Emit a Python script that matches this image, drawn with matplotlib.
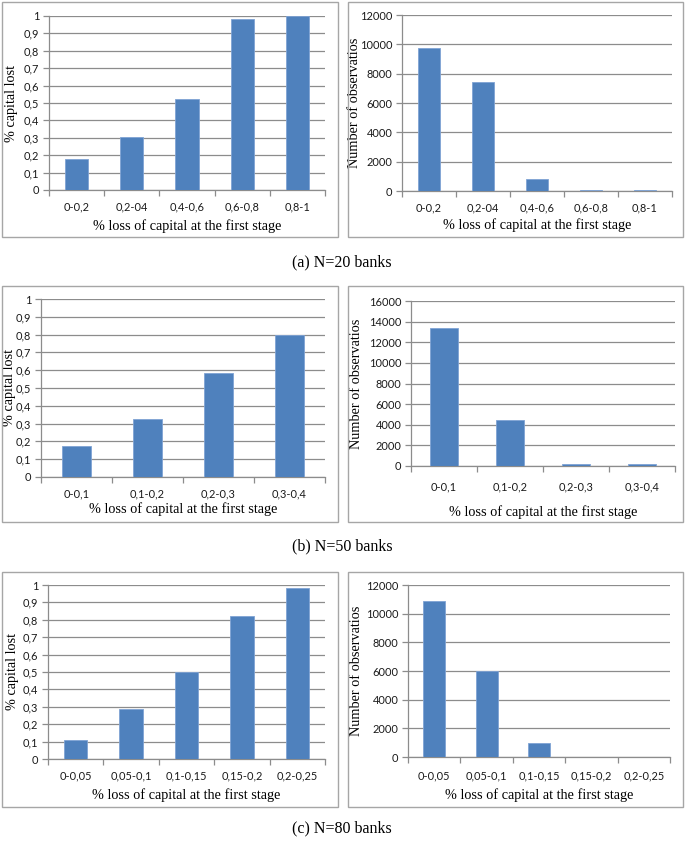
import matplotlib
matplotlib.use("Agg")
import matplotlib.pyplot as plt
from matplotlib.patches import Rectangle
from matplotlib.ticker import FuncFormatter, FixedLocator
import numpy as np

# ---------------- data ----------------
cats_a = ["0-0,2", "0,2-04", "0,4-0,6", "0,6-0,8", "0,8-1"]
lost_a = [0.18, 0.305, 0.525, 0.985, 1.0]
obs_a = [9720, 7420, 820, 80, 80]

cats_b = ["0-0,1", "0,1-0,2", "0,2-0,3", "0,3-0,4"]
lost_b = [0.175, 0.325, 0.586, 0.80]
obs_b = [13390, 4480, 150, 150]

cats_c = ["0-0,05", "0,05-0,1", "0,1-0,15", "0,15-0,2", "0,2-0,25"]
lost_c = [0.111, 0.29, 0.50, 0.822, 0.98]
obs_c = [10880, 6030, 960, 0, 0]

captions = ["(a) N=20 banks", "(b) N=50 banks", "(c) N=80 banks"]
xlabel_txt = "% loss of capital at the first stage"
ylabel_lost = "% capital lost"
ylabel_obs = "Number of observatios"

# ---------------- style ----------------
W, H = 685, 841
fig = plt.figure(figsize=(W / 100, H / 100), dpi=100)
BAR = "#4F81BD"
BAR_EDGE = "#7FA3D4"
GRID = "#8C8C8C"
BOX = "#A6A6A6"
TICKFONT = ["Lato", "DejaVu Sans"]
SERIF = ["Liberation Serif", "DejaVu Serif"]
TFS = 7.9
LFS = 10.3
PX2PT = 0.72


def box(l, t, r, b):
    fig.patches.append(Rectangle((l / W, 1 - b / H), (r - l) / W, (b - t) / H,
                                 transform=fig.transFigure, fill=False,
                                 edgecolor=BOX, linewidth=1.0, zorder=0))


def panel(l, t, r, b, cats, vals, ymax, ystep, ylabel, ylab_x, tick_y, xlab_y,
          comma=False):
    ax = fig.add_axes([l / W, 1 - b / H, (r - l) / W, (b - t) / H])
    n = len(cats)
    x = np.arange(n)
    ax.bar(x, vals, width=0.42, color=BAR, edgecolor=BAR_EDGE, linewidth=0.6,
           zorder=3)
    ax.set_xlim(-0.5, n - 0.5)
    ax.set_ylim(0, ymax)
    yt = np.arange(0, ymax + ystep / 2, ystep)
    ax.set_yticks(yt)
    if comma:
        ax.yaxis.set_major_formatter(FuncFormatter(
            lambda v, p: ("%g" % round(v, 2)).replace(".", ",")))
    else:
        ax.yaxis.set_major_formatter(FuncFormatter(lambda v, p: "%d" % v))
    ax.grid(axis="y", color=GRID, linewidth=0.9, zorder=0)
    ax.set_axisbelow(True)
    for s in ["top", "right"]:
        ax.spines[s].set_visible(False)
    for s in ["left", "bottom"]:
        ax.spines[s].set_color(GRID)
        ax.spines[s].set_linewidth(0.9)
    # category boundaries as major ticks, labels on minor ticks
    ax.xaxis.set_major_locator(FixedLocator(np.arange(n + 1) - 0.5))
    ax.xaxis.set_major_formatter(FuncFormatter(lambda v, p: ""))
    ax.set_xticks(x, minor=True)
    ax.set_xticklabels(cats, minor=True)
    ax.tick_params(axis="x", which="major", length=4.5, width=0.9, color=GRID,
                   direction="out")
    ax.tick_params(axis="x", which="minor", length=0,
                   pad=((tick_y - b) - 5.5) * PX2PT)
    ax.tick_params(axis="y", length=4, width=0.9, color=GRID, direction="out",
                   labelsize=TFS, labelcolor="#1a1a1a", pad=3)
    for lab in ax.get_xticklabels(minor=True) + ax.get_yticklabels():
        lab.set_family(TICKFONT)
        lab.set_fontsize(TFS)
        lab.set_color("#1a1a1a")
    ax.set_xlabel(xlabel_txt, family=SERIF, fontsize=LFS)
    ax.xaxis.set_label_coords(0.5, (b - xlab_y) / (b - t))
    ax.xaxis.label.set_va("center")
    ax.set_ylabel(ylabel, family=SERIF, fontsize=LFS)
    ax.yaxis.set_label_coords((ylab_x - l) / (r - l), 0.5)
    ax.yaxis.label.set_va("center")
    return ax


# row 1
box(2, 2, 338, 237)
box(348, 2, 683, 237)
panel(49, 16, 325, 190, cats_a, lost_a, 1.0, 0.1, ylabel_lost, 12, 207, 226,
      comma=True)
panel(402, 15, 672, 191, cats_a, obs_a, 12000, 2000, ylabel_obs, 355, 208, 225)

# row 2
box(2, 286, 338, 522)
box(348, 286, 683, 522)
panel(41, 299, 325, 477, cats_b, lost_b, 1.0, 0.1, ylabel_lost, 10, 494, 509,
      comma=True)
panel(411, 301, 675, 466, cats_b, obs_b, 16000, 2000, ylabel_obs, 357, 487, 512)

# row 3
box(2, 572, 338, 807)
box(348, 572, 683, 807)
panel(48, 585, 325, 759, cats_c, lost_c, 1.0, 0.1, ylabel_lost, 12, 776, 795,
      comma=True)
panel(408, 585, 670, 757, cats_c, obs_c, 12000, 2000, ylabel_obs, 357, 776, 795)

for cap, y in zip(captions, [262, 546, 828]):
    fig.text(342 / W, 1 - y / H, cap, ha="center", va="center",
             family=SERIF, fontsize=11.5)

fig.savefig("out.png", dpi=100)
